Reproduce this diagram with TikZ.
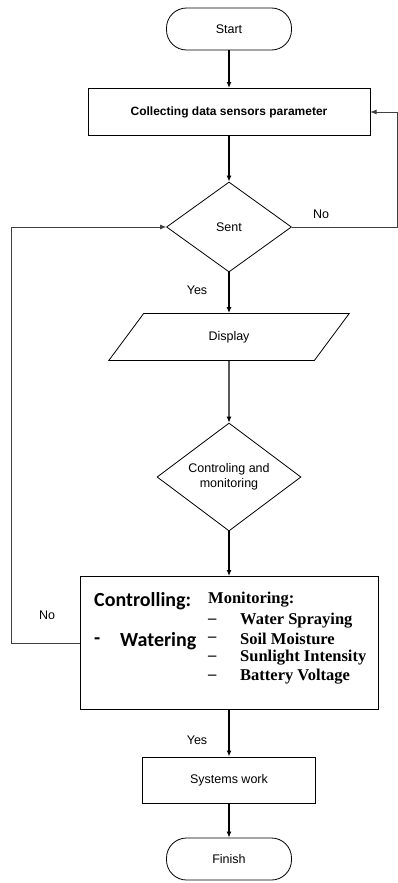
\documentclass[tikz,border=0pt]{standalone}
\usepackage{fontspec}
\setmainfont{Liberation Sans}
\newfontfamily\calibrifont{Carlito}
\newfontfamily\cambriafont{Liberation Serif}
\usetikzlibrary{shapes.geometric,arrows.meta}

\tikzset{
  terminal/.style={draw, rectangle, rounded corners=20pt, minimum width=125pt, minimum height=42pt, line width=0.8pt},
  process/.style={draw, rectangle, minimum height=47pt, line width=1pt},
  decision/.style={draw, diamond, inner sep=0pt, line width=0.8pt, align=center},
  io/.style={draw, trapezium, trapezium left angle=62, trapezium right angle=118, trapezium stretches=true, minimum width=242pt, minimum height=47pt, line width=0.8pt},
  flow/.style={line width=1.2pt, -{Latex[length=6pt,width=5pt]}},
  loopline/.style={line width=0.7pt, draw=black!75, -{Latex[length=6pt,width=5pt]}},
  lbl/.style={font=\fontsize{12.5}{15}\selectfont},
  ctrltext/.style={font=\calibrifont\bfseries\fontsize{20}{22}\selectfont, inner sep=0pt, anchor=west},
  montext/.style={font=\cambriafont\bfseries\fontsize{16.5}{18}\selectfont, inner sep=0pt, anchor=west}
}

\begin{document}
\begin{tikzpicture}[x=1pt, y=-1pt, font=\fontsize{12.5}{15}\selectfont]
\useasboundingbox (0,0) rectangle (398,883);

% main column
\node[terminal] (start) at (229,29) {Start};
\node[process, minimum width=282pt, font=\bfseries\fontsize{12}{14}\selectfont] (collect) at (229,112) {Collecting data sensors parameter};
\node[decision, minimum width=125pt, minimum height=90pt] (sent) at (229,227) {Sent};
\node[io] (display) at (229,337) {Display};
\node[decision, minimum width=144pt, minimum height=107pt] (ctrl) at (229,477) {Controling and\\monitoring};
\node[process, minimum width=298pt, minimum height=133pt] (panel) at (229,643) {};
\node[process, minimum width=173pt, minimum height=46pt] (work) at (229,780) {Systems work};
\node[terminal] (finish) at (229,859) {Finish};

% text of the panel
\node[ctrltext] (ctrlhead) at (94,601) {Controlling:};
\node[ctrltext] (dash0) at (94,641) {-};
\node[ctrltext] (water) at (120,641) {Watering};
\node[montext] (monhead) at (208,600) {Monitoring:};
\foreach \y/\item [count=\i] in {621/Water Spraying, 639/Soil Moisture, 658/Sunlight Intensity, 677/Battery Voltage}{
  \node[montext] (dash\i) at (208,\y) {–};
  \node[montext] (mon\i) at (240,\y) {\item};
}

% connectors
\draw[flow] (start) -- (collect);
\draw[flow] (collect) -- (sent);
\draw[flow] (sent) -- (display);
\draw[flow] (display) -- (ctrl);
\draw[flow] (ctrl) -- (panel);
\draw[flow] (panel) -- (work);
\draw[flow] (work) -- (finish);

% loops
\draw[loopline] (sent.east) -- ++(105,0) |- (collect.east);
\draw[loopline] (panel.west) -- ++(-68,0) |- (sent.west);

% labels
\node[lbl] (no1) at (321,214) {No};
\node[lbl] (yes1) at (197,290) {Yes};
\node[lbl] (no2) at (47,615) {No};
\node[lbl] (yes2) at (197,740) {Yes};
\end{tikzpicture}
\end{document}
